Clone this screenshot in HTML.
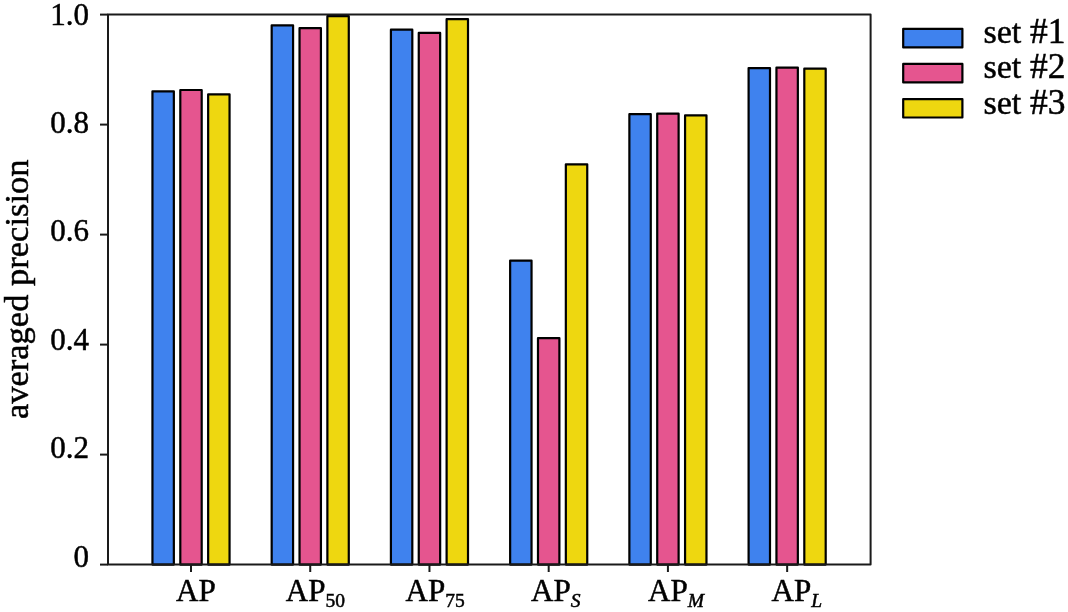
<!DOCTYPE html>
<html><head><meta charset="utf-8"><style>
html,body{margin:0;padding:0;background:#fff;}
body{width:1068px;height:612px;overflow:hidden;}
svg{display:block;will-change:transform;}
.t{font-family:"Liberation Serif",serif;font-size:31px;fill:#000;stroke:#000;stroke-width:0.5px;}
.sub{font-size:19.5px;}
.yt{font-family:"Liberation Serif",serif;font-size:34.5px;fill:#000;stroke:#000;stroke-width:0.5px;}
.dg{font-size:35.5px;}
.lg{font-family:"Liberation Serif",serif;font-size:34px;fill:#000;stroke:#000;stroke-width:0.5px;}
</style></head><body>
<svg width="1068" height="612" viewBox="0 0 1068 612">
<rect x="0" y="0" width="1068" height="612" fill="#ffffff"/>
<rect x="152.45" y="91.30" width="21.40" height="473.30" fill="#3f82ee" stroke="#000" stroke-width="2.2" stroke-linejoin="round"/>
<rect x="180.30" y="90.00" width="21.40" height="474.60" fill="#e5558f" stroke="#000" stroke-width="2.2" stroke-linejoin="round"/>
<rect x="208.15" y="94.30" width="21.40" height="470.30" fill="#eed710" stroke="#000" stroke-width="2.2" stroke-linejoin="round"/>
<rect x="271.68" y="25.30" width="21.40" height="539.30" fill="#3f82ee" stroke="#000" stroke-width="2.2" stroke-linejoin="round"/>
<rect x="299.53" y="28.20" width="21.40" height="536.40" fill="#e5558f" stroke="#000" stroke-width="2.2" stroke-linejoin="round"/>
<rect x="327.38" y="16.20" width="21.40" height="548.40" fill="#eed710" stroke="#000" stroke-width="2.2" stroke-linejoin="round"/>
<rect x="390.91" y="29.70" width="21.40" height="534.90" fill="#3f82ee" stroke="#000" stroke-width="2.2" stroke-linejoin="round"/>
<rect x="418.76" y="32.90" width="21.40" height="531.70" fill="#e5558f" stroke="#000" stroke-width="2.2" stroke-linejoin="round"/>
<rect x="446.61" y="19.20" width="21.40" height="545.40" fill="#eed710" stroke="#000" stroke-width="2.2" stroke-linejoin="round"/>
<rect x="510.14" y="260.60" width="21.40" height="304.00" fill="#3f82ee" stroke="#000" stroke-width="2.2" stroke-linejoin="round"/>
<rect x="537.99" y="338.20" width="21.40" height="226.40" fill="#e5558f" stroke="#000" stroke-width="2.2" stroke-linejoin="round"/>
<rect x="565.84" y="164.30" width="21.40" height="400.30" fill="#eed710" stroke="#000" stroke-width="2.2" stroke-linejoin="round"/>
<rect x="629.37" y="114.20" width="21.40" height="450.40" fill="#3f82ee" stroke="#000" stroke-width="2.2" stroke-linejoin="round"/>
<rect x="657.22" y="113.70" width="21.40" height="450.90" fill="#e5558f" stroke="#000" stroke-width="2.2" stroke-linejoin="round"/>
<rect x="685.07" y="115.30" width="21.40" height="449.30" fill="#eed710" stroke="#000" stroke-width="2.2" stroke-linejoin="round"/>
<rect x="748.60" y="68.10" width="21.40" height="496.50" fill="#3f82ee" stroke="#000" stroke-width="2.2" stroke-linejoin="round"/>
<rect x="776.45" y="67.60" width="21.40" height="497.00" fill="#e5558f" stroke="#000" stroke-width="2.2" stroke-linejoin="round"/>
<rect x="804.30" y="68.70" width="21.40" height="495.90" fill="#eed710" stroke="#000" stroke-width="2.2" stroke-linejoin="round"/>
<path d="M108.0 564.6 L108.0 14.6 L870.6 14.6 L870.6 564.6 Z" fill="none" stroke="#1a1a1a" stroke-width="2" stroke-linejoin="round"/>
<line x1="100" y1="564.60" x2="108.0" y2="564.60" stroke="#1a1a1a" stroke-width="2"/>
<line x1="100" y1="454.60" x2="108.0" y2="454.60" stroke="#1a1a1a" stroke-width="2"/>
<line x1="100" y1="344.60" x2="108.0" y2="344.60" stroke="#1a1a1a" stroke-width="2"/>
<line x1="100" y1="234.60" x2="108.0" y2="234.60" stroke="#1a1a1a" stroke-width="2"/>
<line x1="100" y1="124.60" x2="108.0" y2="124.60" stroke="#1a1a1a" stroke-width="2"/>
<line x1="100" y1="14.60" x2="108.0" y2="14.60" stroke="#1a1a1a" stroke-width="2"/>
<line x1="191.00" y1="564.6" x2="191.00" y2="572" stroke="#1a1a1a" stroke-width="2"/>
<line x1="310.23" y1="564.6" x2="310.23" y2="572" stroke="#1a1a1a" stroke-width="2"/>
<line x1="429.46" y1="564.6" x2="429.46" y2="572" stroke="#1a1a1a" stroke-width="2"/>
<line x1="548.69" y1="564.6" x2="548.69" y2="572" stroke="#1a1a1a" stroke-width="2"/>
<line x1="667.92" y1="564.6" x2="667.92" y2="572" stroke="#1a1a1a" stroke-width="2"/>
<line x1="787.15" y1="564.6" x2="787.15" y2="572" stroke="#1a1a1a" stroke-width="2"/>
<text x="89" y="566.60" text-anchor="end" class="t">0</text>
<text x="89" y="458.18" text-anchor="end" class="t">0.2</text>
<text x="89" y="349.76" text-anchor="end" class="t">0.4</text>
<text x="89" y="241.34" text-anchor="end" class="t">0.6</text>
<text x="89" y="132.92" text-anchor="end" class="t">0.8</text>
<text x="89" y="24.50" text-anchor="end" class="t">1.0</text>
<text x="176.00" y="600.6" class="t">AP</text>
<text x="285.80" y="600.6" class="t">AP<tspan class="sub" dy="6.3">50</tspan></text>
<text x="405.50" y="600.6" class="t">AP<tspan class="sub" dy="6.3">75</tspan></text>
<text x="531.10" y="600.6" class="t">AP<tspan class="sub" dy="6.3" font-style="italic">S</tspan></text>
<text x="648.00" y="600.6" class="t">AP<tspan class="sub" dy="6.3" font-style="italic">M</tspan></text>
<text x="771.50" y="600.6" class="t">AP<tspan class="sub" dy="6.3" font-style="italic">L</tspan></text>
<text transform="translate(28.2 419.1) rotate(-90)" class="yt">averaged precision</text>
<rect x="903.20" y="28.80" width="59.20" height="18.60" fill="#3f82ee" stroke="#000" stroke-width="2.2" stroke-linejoin="round"/>
<text x="983.5" y="42.90" class="lg">set<tspan x="1030.0" class="dg">#1</tspan></text>
<rect x="903.20" y="63.95" width="59.20" height="18.45" fill="#e5558f" stroke="#000" stroke-width="2.2" stroke-linejoin="round"/>
<text x="983.5" y="78.30" class="lg">set<tspan x="1030.0" class="dg">#2</tspan></text>
<rect x="903.20" y="99.10" width="59.20" height="18.40" fill="#eed710" stroke="#000" stroke-width="2.2" stroke-linejoin="round"/>
<text x="983.5" y="114.00" class="lg">set<tspan x="1030.0" class="dg">#3</tspan></text>
</svg>
</body></html>
